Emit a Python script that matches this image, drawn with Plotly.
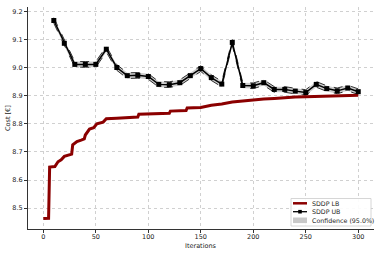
import plotly.graph_objects as go

# ---- data ----
lb_iter = [0, 5, 6, 11, 14, 17, 20, 25, 27, 28, 32, 36, 39, 40, 44, 48, 51, 57, 60, 70, 80, 90, 91, 100,
           110, 120, 121, 130, 136, 137, 150, 160, 170, 180, 190, 200, 210, 220, 230, 240, 250, 260,
           270, 280, 290, 300]
lb_vals = [8.463, 8.464, 8.646, 8.648, 8.665, 8.672, 8.684, 8.690, 8.692, 8.725, 8.737, 8.742, 8.746,
           8.760, 8.781, 8.786, 8.800, 8.806, 8.818, 8.820, 8.822, 8.824, 8.834, 8.835, 8.836, 8.837,
           8.845, 8.846, 8.847, 8.856, 8.858, 8.866, 8.870, 8.877, 8.881, 8.884, 8.888, 8.890, 8.893,
           8.895, 8.896, 8.897, 8.898, 8.899, 8.900, 8.901]

ub_iter = list(range(10, 301, 10))
ub_vals = [9.167, 9.086, 9.011, 9.011, 9.011, 9.065, 9.000, 8.971, 8.972, 8.968,
           8.940, 8.939, 8.946, 8.971, 8.996, 8.964, 8.941, 9.089, 8.936, 8.935,
           8.946, 8.922, 8.922, 8.916, 8.911, 8.940, 8.925, 8.917, 8.927, 8.914]
ci_half = [0.010] * len(ub_vals)

x_ticks = [0, 50, 100, 150, 200, 250, 300]
y_ticks = [8.5, 8.6, 8.7, 8.8, 8.9, 9.0, 9.1, 9.2]
legend_labels = ["SDDP LB", "SDDP UB", "Confidence (95.0%)"]

ub_hi = [v + h for v, h in zip(ub_vals, ci_half)]
ub_lo = [v - h for v, h in zip(ub_vals, ci_half)]

FONT = "DejaVu Sans"
W, H = 382, 254
ML, MR, MT, MB = 28, 8, 7, 25
PW, PH = W - ML - MR, H - MT - MB

def px(xpix):
    return (xpix - ML) / PW

def py(ypix):
    return (H - MB - ypix) / PH

RED = "#8b0000"
BAND = "rgba(165,165,165,0.55)"

fig = go.Figure()

fig.add_trace(go.Scatter(
    x=ub_iter + ub_iter[::-1], y=ub_hi + ub_lo[::-1],
    fill="toself", fillcolor=BAND, line=dict(width=0),
    mode="lines", showlegend=False, hoverinfo="skip"))
for edge in (ub_hi, ub_lo):
    fig.add_trace(go.Scatter(x=ub_iter, y=edge, mode="lines",
                             line=dict(color="black", width=0.8, dash="dash"),
                             showlegend=False, hoverinfo="skip"))

fig.add_trace(go.Scatter(x=lb_iter, y=lb_vals, mode="lines", showlegend=False,
                         line=dict(color=RED, width=3)))
fig.add_trace(go.Scatter(x=ub_iter, y=ub_vals, mode="lines+markers", showlegend=False,
                         line=dict(color="black", width=1.5),
                         marker=dict(symbol="square", size=5, color="black")))

axis_common = dict(
    showgrid=True, gridcolor="#d0d0d0", griddash="dot", gridwidth=0.8,
    showline=True, linecolor="#333333", linewidth=1,
    ticks="outside", ticklen=3, tickcolor="#333333", tickwidth=0.8,
    tickfont=dict(family=FONT, size=6.5, color="#222222"),
    zeroline=False, mirror=False, automargin=False,
)

# ---- hand-made legend (matches the compact reference legend) ----
shapes = [dict(type="rect", xref="paper", yref="paper",
               x0=px(291), x1=px(371), y0=py(226), y1=py(198.5),
               line=dict(color="#cccccc", width=0.8), fillcolor="rgba(255,255,255,0.9)", layer="above")]
rows = [203.3, 211.7, 220.3]
shapes.append(dict(type="line", xref="paper", yref="paper", x0=px(293), x1=px(307),
                   y0=py(rows[0]), y1=py(rows[0]), line=dict(color=RED, width=2.5), layer="above"))
shapes.append(dict(type="line", xref="paper", yref="paper", x0=px(293), x1=px(307),
                   y0=py(rows[1]), y1=py(rows[1]), line=dict(color="black", width=1.3), layer="above"))
shapes.append(dict(type="rect", xref="paper", yref="paper", x0=px(298.2), x1=px(301.8),
                   y0=py(rows[1] + 1.8), y1=py(rows[1] - 1.8),
                   line=dict(width=0), fillcolor="black", layer="above"))
shapes.append(dict(type="rect", xref="paper", yref="paper", x0=px(293), x1=px(307),
                   y0=py(rows[2] + 2.8), y1=py(rows[2] - 2.8),
                   line=dict(width=0), fillcolor="#c8c8c8", layer="above"))

annotations = [dict(text=lbl, xref="paper", yref="paper", x=px(310), y=py(r),
                    xanchor="left", yanchor="middle", showarrow=False,
                    font=dict(family=FONT, size=6.3, color="#222222"))
               for lbl, r in zip(legend_labels, rows)]
annotations.append(dict(text="Iterations", xref="paper", yref="paper", x=px((43.3 + 358.3) / 2),
                        y=py(246), xanchor="center", yanchor="middle", showarrow=False,
                        font=dict(family=FONT, size=6.5, color="#222222")))
annotations.append(dict(text="Cost [€]", xref="paper", yref="paper", x=px(8), y=py(118),
                        xanchor="center", yanchor="middle", showarrow=False, textangle=-90,
                        font=dict(family=FONT, size=6.5, color="#222222")))

fig.update_layout(
    width=W, height=H,
    margin=dict(l=ML, r=MR, t=MT, b=MB, autoexpand=False),
    paper_bgcolor="white", plot_bgcolor="white",
    font=dict(family=FONT, size=6.5, color="#222222"),
    xaxis=dict(range=[-14.6, 315], tickvals=x_ticks, ticktext=[str(t) for t in x_ticks],
               ticklabelstandoff=-2, **axis_common),
    yaxis=dict(range=[8.426, 9.215], tickvals=y_ticks, ticktext=[f"{t:.1f}" for t in y_ticks],
               **axis_common),
    shapes=shapes, annotations=annotations,
    showlegend=False,
)

fig.write_html("out.html", config={"displayModeBar": False},
               post_script="document.body.style.margin='0';document.body.style.padding='0';")
